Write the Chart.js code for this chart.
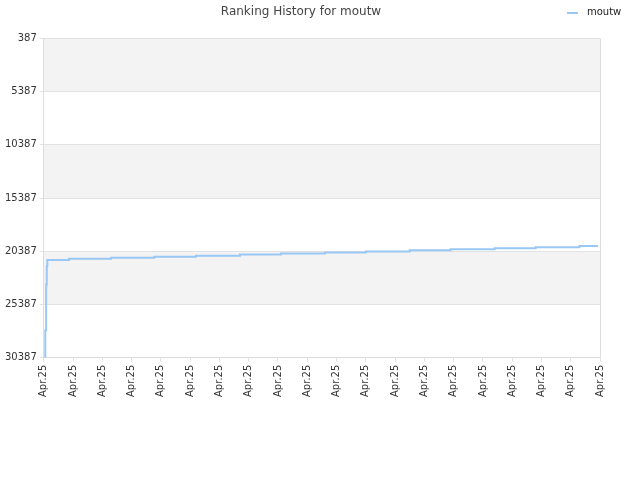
<!DOCTYPE html>
<html><head><meta charset="utf-8">
<script src="https://cdn.jsdelivr.net/npm/chart.js@4"></script>
<style>html,body{margin:0;padding:0;background:#fff}#w{width:640px;height:480px}</style>
</head><body><div id="w"><canvas id="c"></canvas></div>
<script>
const xLabel = 'Apr.25';
const xPos = [0.03,0.05,0.08,0.10,0.12,0.86,2.3,3.77,5.2,6.7,8.1,9.6,11.0,12.5,13.9,15.4,16.8,18.3,18.93];
const ranks = [30387,27800,23500,21800,21200,21100,21000,20900,20800,20700,20600,20500,20400,20300,20200,20100,20000,19900,19900];
const yTicks = [387,5387,10387,15387,20387,25387,30387];
const bands = {id:'bands',beforeDraw(ch){const {ctx,chartArea:a,scales:{y}}=ch;ctx.save();ctx.fillStyle='#f3f3f3';
 for(let i=0;i<yTicks.length-1;i+=2){const t=y.getPixelForValue(yTicks[i]),b=y.getPixelForValue(yTicks[i+1]);ctx.fillRect(a.left,t,a.right-a.left,b-t);}ctx.restore();}};
const leg = {id:'leg',afterDraw(ch){const ctx=ch.ctx;ctx.save();ctx.strokeStyle='#99c8f5';ctx.lineWidth=2;ctx.beginPath();ctx.moveTo(567,13);ctx.lineTo(578,13);ctx.stroke();
 ctx.fillStyle='#222';ctx.font='10px "DejaVu Sans"';ctx.textBaseline='middle';ctx.fillText(ch.data.datasets[0].label,587,12);ctx.restore();}};
new Chart(document.getElementById('c'),{type:'line',
 data:{datasets:[{label:'moutw',data:xPos.map((x,i)=>({x,y:ranks[i]})),stepped:true,borderColor:'#99c8f5',backgroundColor:'#99c8f5',borderWidth:2,pointRadius:0,fill:false}]},
 options:{responsive:true,maintainAspectRatio:false,animation:false,
  layout:{padding:{left:2,right:40,top:0,bottom:80}},
  plugins:{title:{display:true,text:'Ranking History for moutw',color:'#444',font:{family:'DejaVu Sans',size:12,weight:'normal'},padding:{top:5,bottom:19}},
   legend:{display:false},tooltip:{enabled:false}},
  scales:{x:{type:'linear',min:0,max:19,afterBuildTicks(s){s.ticks=[...Array(20).keys()].map(v=>({value:v}));},
    ticks:{callback:()=>xLabel,maxRotation:90,minRotation:90,autoSkip:false,color:'#333',font:{family:'DejaVu Sans',size:10}},
    grid:{color:'#e2e2e2',drawOnChartArea:false,drawTicks:true,tickLength:4},border:{color:'#ddd'}},
   y:{reverse:true,min:387,max:30387,afterBuildTicks(s){s.ticks=yTicks.map(v=>({value:v}));},
    ticks:{callback:v=>String(v),color:'#333',font:{family:'DejaVu Sans',size:10}},grid:{color:'#e2e2e2',tickLength:4},border:{color:'#ddd'}}}},
 plugins:[bands,leg,{id:'rb',afterDraw(ch){const {ctx,chartArea:a}=ch;ctx.save();ctx.strokeStyle='#ddd';ctx.beginPath();ctx.moveTo(a.right+0.5,a.top);ctx.lineTo(a.right+0.5,a.bottom);ctx.stroke();ctx.restore();}}]
});
</script></body></html>
